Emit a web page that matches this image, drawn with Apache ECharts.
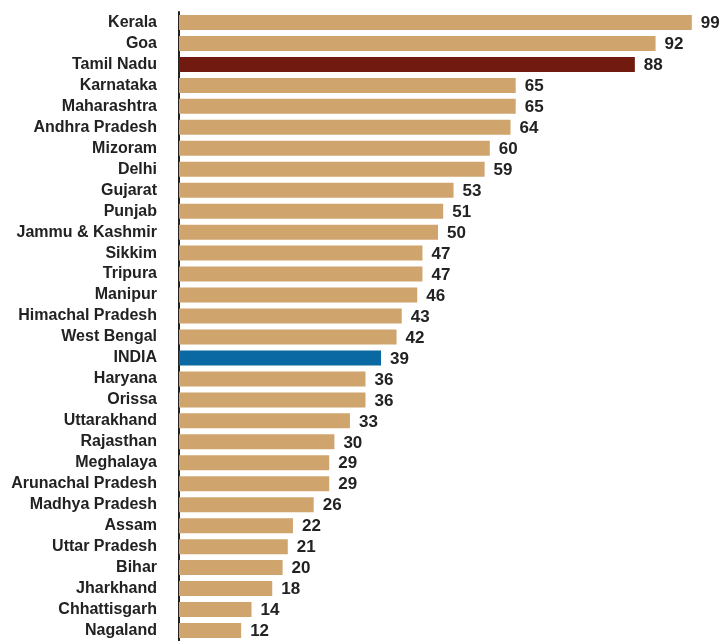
<!DOCTYPE html>
<html>
<head>
<meta charset="utf-8">
<script src="https://cdn.jsdelivr.net/npm/echarts@6/dist/echarts.min.js"></script>
<style>
  html, body { margin: 0; padding: 0; background: #fff; }
  #chart { width: 720px; height: 641px; }
</style>
</head>
<body>
<div id="chart"></div>
<script>
const states = ['Kerala', 'Goa', 'Tamil Nadu', 'Karnataka', 'Maharashtra', 'Andhra Pradesh',
  'Mizoram', 'Delhi', 'Gujarat', 'Punjab', 'Jammu & Kashmir', 'Sikkim', 'Tripura', 'Manipur',
  'Himachal Pradesh', 'West Bengal', 'INDIA', 'Haryana', 'Orissa', 'Uttarakhand', 'Rajasthan',
  'Meghalaya', 'Arunachal Pradesh', 'Madhya Pradesh', 'Assam', 'Uttar Pradesh', 'Bihar',
  'Jharkhand', 'Chhattisgarh', 'Nagaland'];
const values = [99, 92, 88, 65, 65, 64, 60, 59, 53, 51, 50, 47, 47, 46, 43, 42, 39, 36, 36, 33,
  30, 29, 29, 26, 22, 21, 20, 18, 14, 12];

const baseColor = '#CFA46D';
const highlightColors = { 'Tamil Nadu': '#701A10', 'INDIA': '#0A69A2' };
const textColor = '#222222';
const fontFamily = '"Liberation Sans", Arial, sans-serif';

const chart = echarts.init(document.getElementById('chart'));
chart.setOption({
  animation: false,
  grid: { left: 179, top: 12, width: 518, height: 632 },
  xAxis: {
    type: 'value', min: 0, max: 100, show: false
  },
  yAxis: {
    type: 'category',
    data: states,
    inverse: true,
    axisLine: { show: true, lineStyle: { color: '#222', width: 2 } },
    axisTick: { show: false },
    axisLabel: {
      margin: 22, color: textColor, fontWeight: 'bold', fontSize: 16, fontFamily: fontFamily
    }
  },
  series: [{
    type: 'bar',
    barWidth: 15,
    data: values.map((v, i) => ({
      value: v,
      itemStyle: { color: highlightColors[states[i]] || baseColor }
    })),
    label: {
      show: true, position: 'right', distance: 9, offset: [0, 1],
      color: textColor, fontWeight: 'bold', fontSize: 17, fontFamily: fontFamily
    }
  }]
});
</script>
</body>
</html>
